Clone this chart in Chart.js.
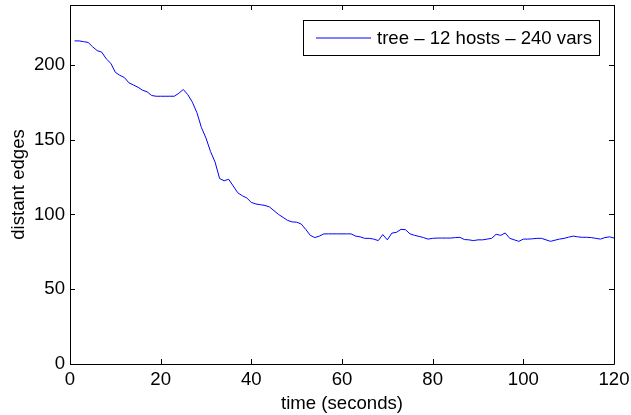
<!DOCTYPE html>
<html><head><meta charset="utf-8">
<script src="https://cdn.jsdelivr.net/npm/chart.js@4.4.0/dist/chart.umd.min.js"></script>
<style>html,body{margin:0;padding:0;background:#fff;}#wrap{width:631px;height:415px;}</style>
</head><body><div id="wrap"><canvas id="c" width="631" height="415"></canvas></div>
<script>
const seriesLabel = "tree \u2013 12 hosts \u2013 240 vars";
const times = [];
for (let t = 1; t <= 120; t++) times.push(t);
const edges = [216,216,215.5,215,212,209.5,208.5,204,201,195,
193,191.5,188,186.5,185,183,182,179.5,179,179,
179,179,179,181,183.5,180,175,168,158,151,
142,135,124,122.5,123.5,119,114.5,112.5,111,108,
107,106.5,106,105,102.5,100,98,96,95,94.8,
93.6,90,86,84.5,85.5,87,87,87,87,87,
87,87,85.5,85,84,84,83.5,82.5,86.5,83,
87.5,88,90,89.8,87,86,85.3,84.5,83.5,84,
84.2,84.2,84.2,84.2,84.5,84.7,83.2,83,82.5,83,
83,83.5,84,86.7,86,87.6,84,83,82,83.5,
83.5,83.7,84,84,83,82,82.8,83.5,84,84.8,
85.5,85,84.7,84.7,84.5,84,83.5,84.5,85,84.2];
const xTicks = [0,20,40,60,80,100,120];
const yTicks = [0,50,100,150,200];

const FONT = "'Liberation Sans', Arial, Helvetica, sans-serif";
const FS = 18.6;

const frame = {
  id: 'frame',
  afterDraw(chart) {
    const {ctx, chartArea: a, scales} = chart;
    ctx.save();
    ctx.strokeStyle = '#000';
    ctx.lineWidth = 1;
    ctx.beginPath();
    ctx.rect(Math.round(a.left)+0.5, Math.round(a.top)+0.5, Math.round(a.right-a.left), Math.round(a.bottom-a.top));
    ctx.stroke();
    const L = 5;
    ctx.beginPath();
    xTicks.forEach(v => {
      const x = Math.round(scales.x.getPixelForValue(v)) + 0.5;
      ctx.moveTo(x, a.bottom); ctx.lineTo(x, a.bottom - L);
      ctx.moveTo(x, a.top); ctx.lineTo(x, a.top + L);
    });
    yTicks.forEach(v => {
      const y = Math.round(scales.y.getPixelForValue(v)) + 0.5;
      ctx.moveTo(a.left, y); ctx.lineTo(a.left + L, y);
      ctx.moveTo(a.right, y); ctx.lineTo(a.right - L, y);
    });
    ctx.stroke();
    // legend
    const bx = 303.5, by = 20.5, bw = 296, bh = 35;
    ctx.fillStyle = '#fff';
    ctx.fillRect(bx, by, bw, bh);
    ctx.strokeRect(bx, by, bw, bh);
    ctx.strokeStyle = chart.data.datasets[0].borderColor;
    ctx.beginPath();
    ctx.moveTo(316, by + bh/2); ctx.lineTo(371, by + bh/2);
    ctx.stroke();
    ctx.fillStyle = '#000';
    ctx.font = FS + 'px ' + FONT;
    ctx.textBaseline = 'middle';
    ctx.textAlign = 'left';
    ctx.fillText(chart.data.datasets[0].label, 377, by + bh/2 + 1);
    ctx.restore();
  }
};

new Chart(document.getElementById('c'), {
  type: 'line',
  data: {
    datasets: [{
      label: seriesLabel,
      data: times.map((t, i) => ({x: t, y: edges[i]})),
      borderColor: '#0000ff',
      borderWidth: 1,
      pointRadius: 0,
      tension: 0,
      fill: false
    }]
  },
  options: {
    responsive: false,
    animation: false,
    layout: {padding: {left: 0, right: 17, top: 5, bottom: 0}},
    plugins: {legend: {display: false}, tooltip: {enabled: false}},
    scales: {
      x: {
        type: 'linear', min: 0, max: 120,
        grid: {display: false, drawTicks: false},
        border: {display: false},
        afterBuildTicks: s => { s.ticks = xTicks.map(v => ({value: v})); },
        afterFit: s => { s.height = 51; s.paddingLeft = 0; s.paddingRight = 0; },
        ticks: {color: '#000', font: {family: FONT, size: FS}, padding: 5, maxRotation: 0},
        title: {display: true, text: 'time (seconds)', color: '#000', font: {family: FONT, size: FS}, padding: {top: 2, bottom: 0}}
      },
      y: {
        type: 'linear', min: 0, max: 240,
        grid: {display: false, drawTicks: false},
        border: {display: false},
        afterBuildTicks: s => { s.ticks = yTicks.map(v => ({value: v})); },
        afterFit: s => { s.width = 70; s.paddingTop = 0; s.paddingBottom = 0; },
        ticks: {color: '#000', font: {family: FONT, size: FS}, padding: 5},
        title: {display: true, text: 'distant edges', color: '#000', font: {family: FONT, size: FS}, padding: {top: 8, bottom: 0}}
      }
    }
  },
  plugins: [frame]
});
</script></body></html>
